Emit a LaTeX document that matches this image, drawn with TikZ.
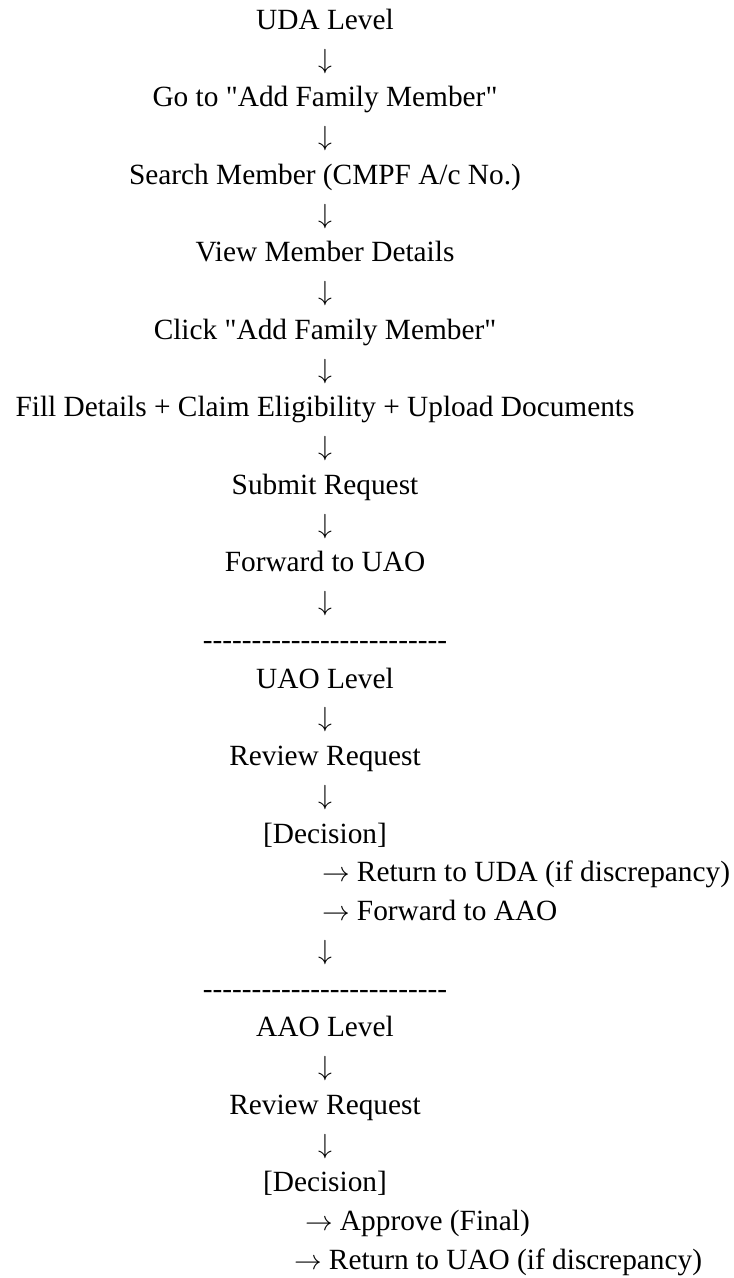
\documentclass[tikz,border=0pt]{standalone}
\usepackage{fontspec}
\setmainfont{Liberation Serif}[Ligatures=TeXOff]
\begin{document}
\begin{tikzpicture}[x=0.75pt,y=-0.75pt,
  txt/.style={anchor=base,inner sep=0pt,outer sep=0pt,font=\fontsize{22}{26}\selectfont},
  txtl/.style={txt,anchor=base west}]
\useasboundingbox (0,0) rectangle (734,1278);
\node[txt] (n0)  at (325,29.3)   {UDA Level};
\node[txt] (a1)  at (325,68.05)  {$\downarrow$};
\node[txt] (n2)  at (325,106.8)  {Go to "Add Family Member"};
\node[txt] (a3)  at (325,145.55) {$\downarrow$};
\node[txt] (n4)  at (325,184.3)  {Search Member (CMPF A/c No.)};
\node[txt] (a5)  at (325,223.05) {$\downarrow$};
\node[txt] (n6)  at (325,261.8)  {View Member Details};
\node[txt] (a7)  at (325,300.55) {$\downarrow$};
\node[txt] (n8)  at (325,339.3)  {Click "Add Family Member"};
\node[txt] (a9)  at (325,378.05) {$\downarrow$};
\node[txt] (n10) at (325,416.8)  {Fill Details + Claim Eligibility + Upload Documents};
\node[txt] (a11) at (325,455.55) {$\downarrow$};
\node[txt] (n12) at (325,494.3)  {Submit Request};
\node[txt] (a13) at (325,533.05) {$\downarrow$};
\node[txt] (n14) at (325,571.8)  {Forward to UAO};
\node[txt] (a15) at (325,610.55) {$\downarrow$};
\node[txt] (d16) at (325,649.3)  {-------------------------};
\node[txt] (n17) at (325,688.05) {UAO Level};
\node[txt] (a18) at (325,726.8)  {$\downarrow$};
\node[txt] (n19) at (325,765.55) {Review Request};
\node[txt] (a20) at (325,804.3)  {$\downarrow$};
\node[txt] (n21) at (325,843.05) {[Decision]};
\node[txtl] (n22) at (322,881.8)  {$\rightarrow$ Return to UDA (if discrepancy)};
\node[txtl] (n23) at (322,920.55) {$\rightarrow$ Forward to AAO};
\node[txt] (a24) at (325,959.3)  {$\downarrow$};
\node[txt] (d25) at (325,998.05) {-------------------------};
\node[txt] (n26) at (325,1036.8) {AAO Level};
\node[txt] (a27) at (325,1075.55) {$\downarrow$};
\node[txt] (n28) at (325,1114.3) {Review Request};
\node[txt] (a29) at (325,1153.05) {$\downarrow$};
\node[txt] (n30) at (325,1191.8) {[Decision]};
\node[txtl] (n31) at (305,1230.55) {$\rightarrow$ Approve (Final)};
\node[txtl] (n32) at (294,1269.3) {$\rightarrow$ Return to UAO (if discrepancy)};
\end{tikzpicture}
\end{document}
